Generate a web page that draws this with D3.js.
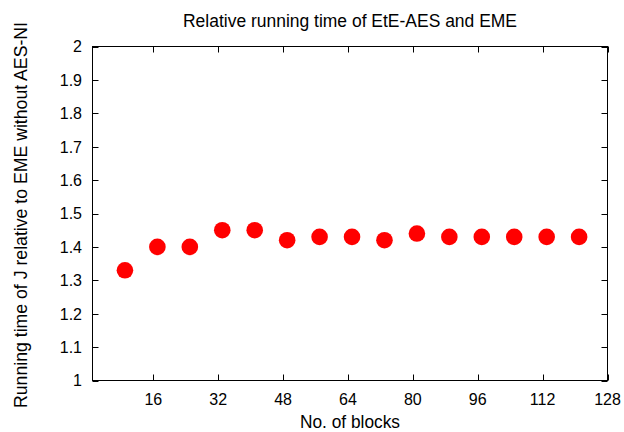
<!DOCTYPE html>
<html><head><meta charset="utf-8">
<script src="https://cdn.jsdelivr.net/npm/d3@7"></script>
<style>body{margin:0;background:#fff}svg{display:block}text{font-family:"Liberation Sans",Arial,sans-serif;fill:#000}</style>
</head><body><svg id="c" width="624" height="432"></svg>
<script>
const blocks = [9,17,25,33,41,49,57,65,73,81,89,97,105,113,121];
const ratios = [1.33,1.40,1.40,1.45,1.45,1.42,1.43,1.43,1.42,1.44,1.43,1.43,1.43,1.43,1.43];
const xTicks = [16,32,48,64,80,96,112,128];
const yTicks = [1,1.1,1.2,1.3,1.4,1.5,1.6,1.7,1.8,1.9,2];
const title = "Relative running time of EtE-AES and EME";
const xLabel = "No. of blocks";
const yLabel = "Running time of J relative to EME without AES-NI";

const svg = d3.select("#c");
const L = 92.5, R = 607.5, T = 46.5, B = 380.5;
const x = d3.scaleLinear().domain([1,128]).range([L,R]);
const y = d3.scaleLinear().domain([1,2]).range([B,T]);
const fs = 16, lfs = 17.5;

// ticks
const tl = 6;
const g = svg.append("g").attr("stroke","#000").attr("stroke-width",1);
xTicks.forEach(v=>{
  const px = Math.round(x(v))+0.5;
  g.append("line").attr("x1",px).attr("x2",px).attr("y1",B).attr("y2",B-tl);
  g.append("line").attr("x1",px).attr("x2",px).attr("y1",T).attr("y2",T+tl);
});
yTicks.forEach(v=>{
  const py = Math.round(y(v))+0.5;
  g.append("line").attr("x1",L).attr("x2",L+tl).attr("y1",py).attr("y2",py);
  g.append("line").attr("x1",R).attr("x2",R-tl).attr("y1",py).attr("y2",py);
});
svg.append("rect").attr("x",L).attr("y",T).attr("width",R-L).attr("height",B-T)
  .attr("fill","none").attr("stroke","#000").attr("stroke-width",1);

// labels
svg.append("g").selectAll("text").data(xTicks).join("text")
  .attr("x",d=>x(d)).attr("y",404.5).attr("text-anchor","middle").attr("font-size",fs).text(d=>d);
svg.append("g").selectAll("text").data(yTicks).join("text")
  .attr("x",82).attr("y",d=>y(d)+5.8).attr("text-anchor","end").attr("font-size",fs).text(d=>d3.format("")(d));

svg.append("text").attr("x",350).attr("y",27).attr("text-anchor","middle").attr("font-size",lfs)
  .attr("textLength",334).attr("lengthAdjust","spacingAndGlyphs").text(title);
svg.append("text").attr("x",350).attr("y",427.5).attr("text-anchor","middle").attr("font-size",lfs)
  .attr("textLength",100).attr("lengthAdjust","spacingAndGlyphs").text(xLabel);
svg.append("text").attr("transform","translate(27,215) rotate(-90)").attr("text-anchor","middle").attr("font-size",lfs)
  .attr("textLength",386).attr("lengthAdjust","spacingAndGlyphs").text(yLabel);

// points
svg.append("g").selectAll("circle").data(blocks).join("circle")
  .attr("cx",(d)=>x(d)).attr("cy",(d,i)=>y(ratios[i])).attr("r",8.3).attr("fill","#ff0000");
</script></body></html>
